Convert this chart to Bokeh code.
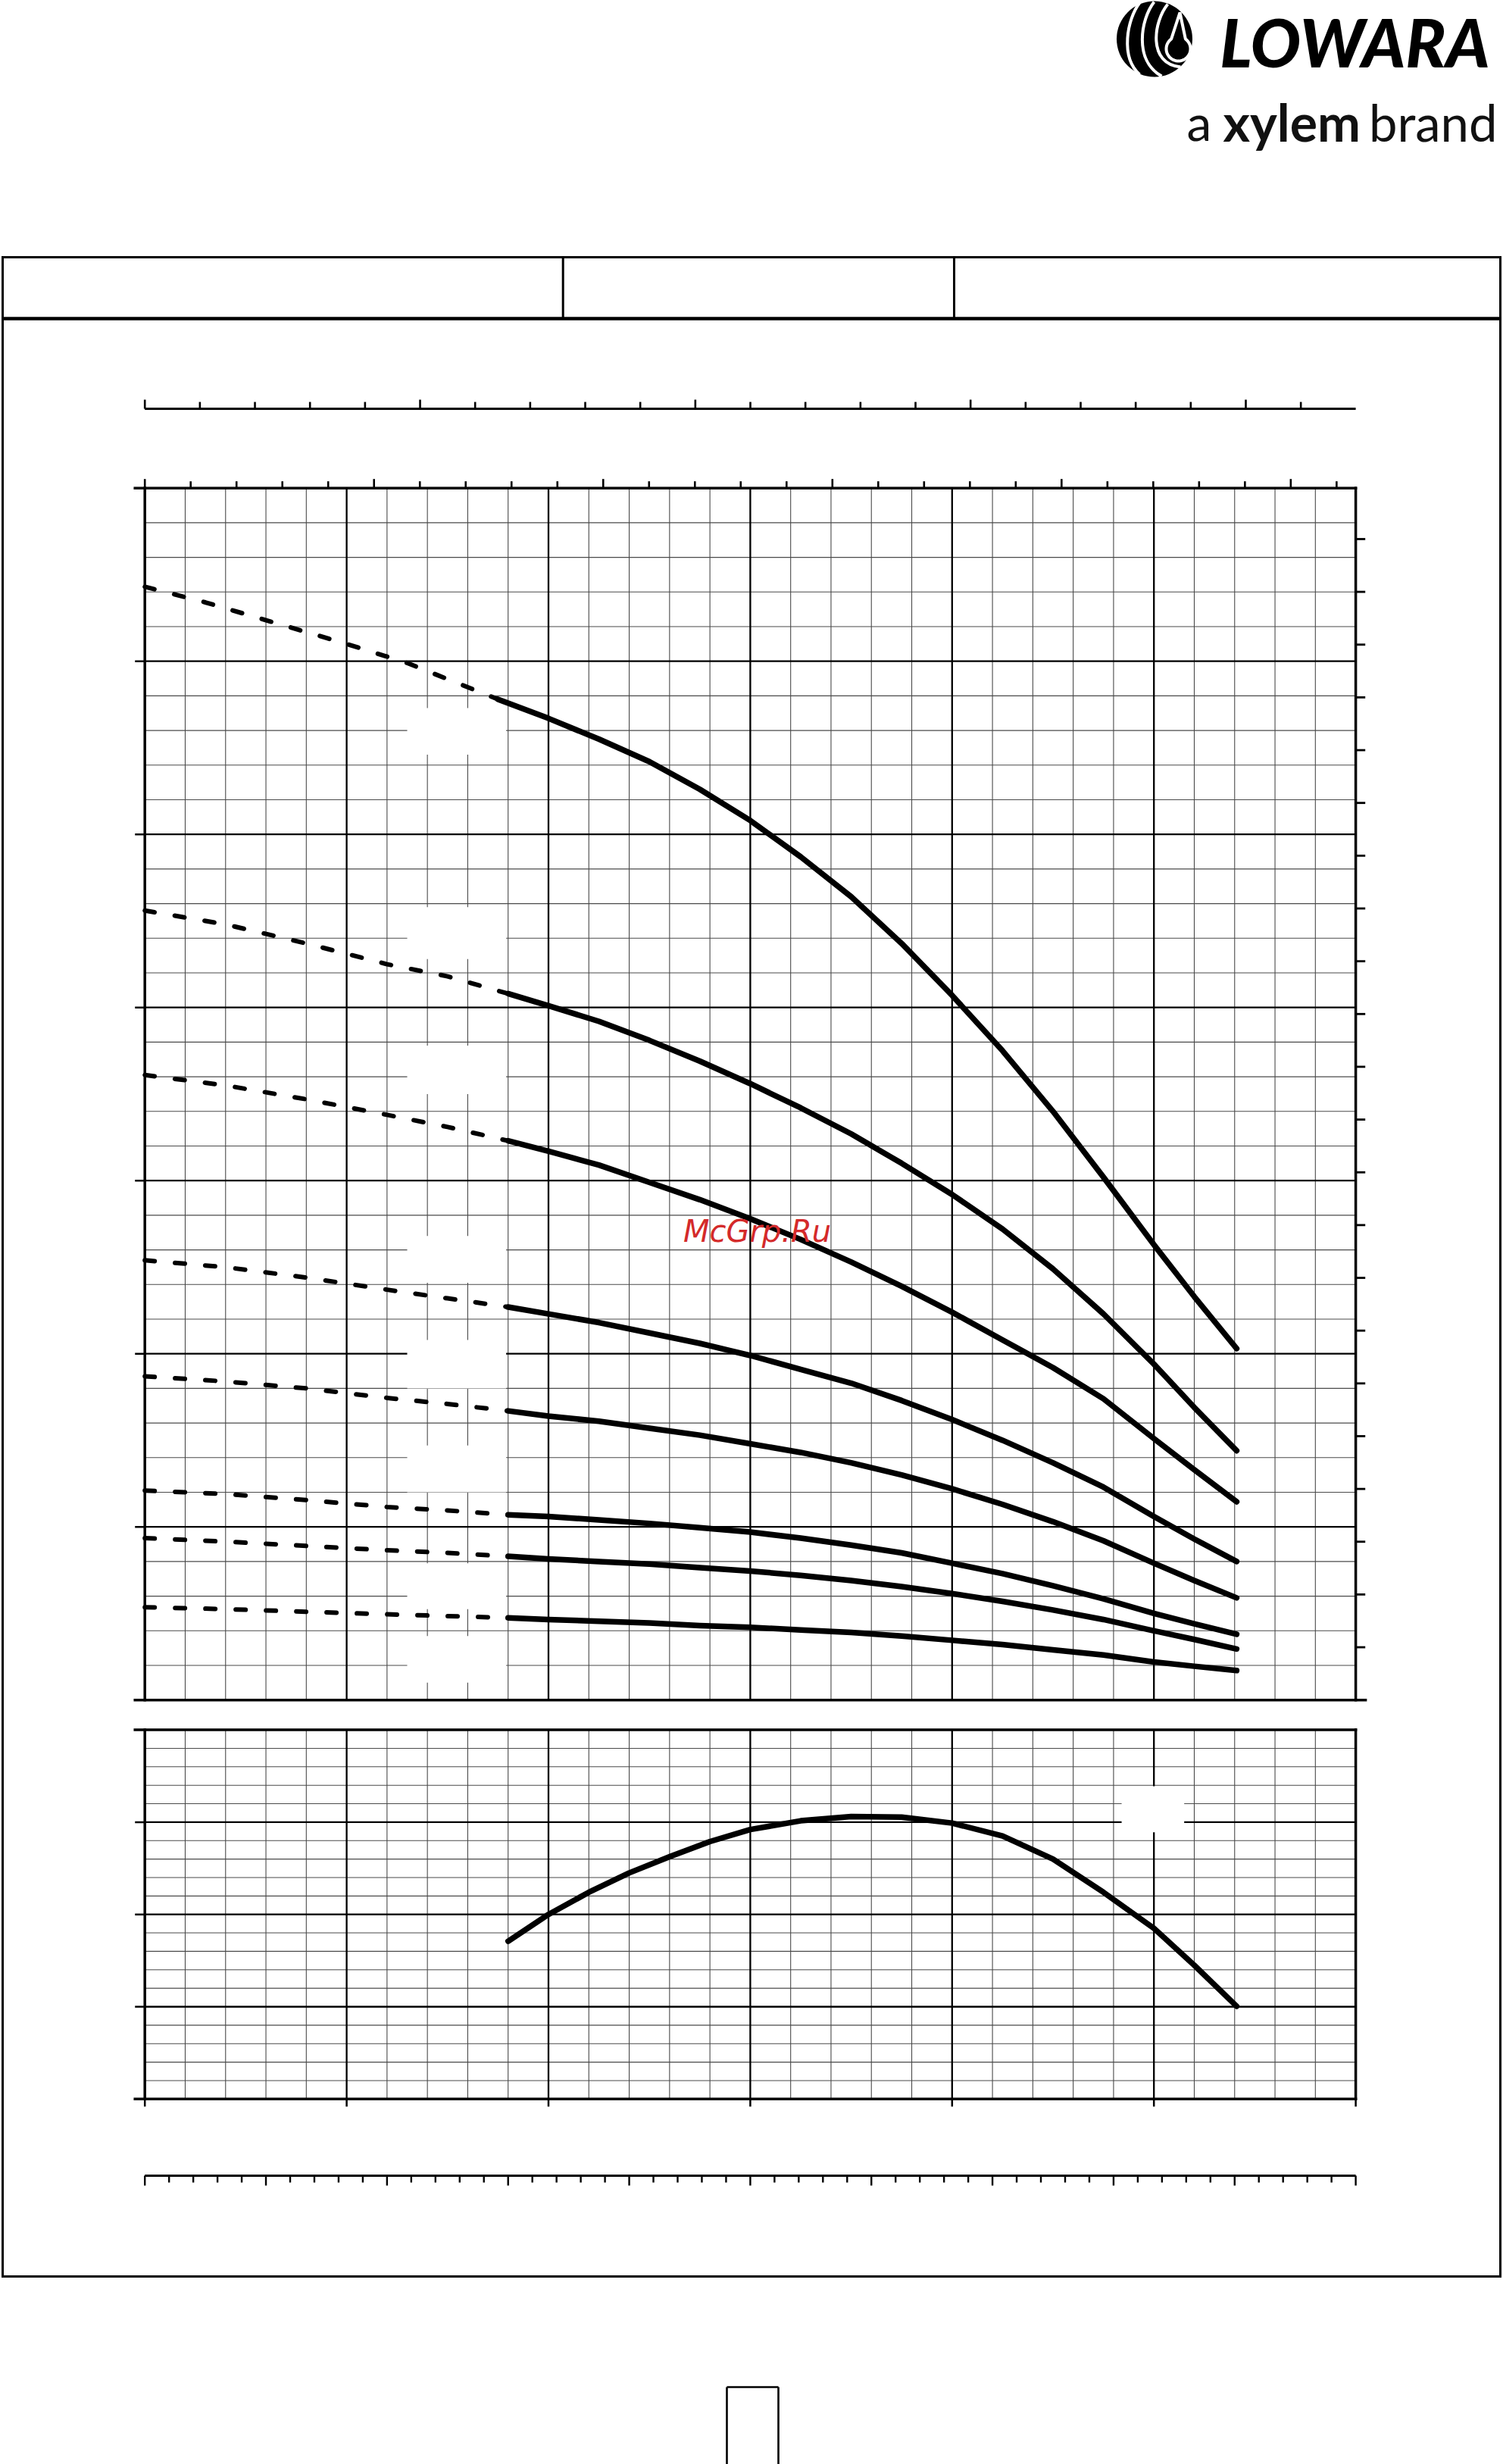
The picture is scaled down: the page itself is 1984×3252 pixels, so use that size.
import numpy as np
from bokeh.plotting import figure
from bokeh.models import Range1d
from bokeh.embed import file_html
from bokeh.resources import INLINE
from bokeh.core.properties import value

# ---------------- data ----------------
# main chart: flow Q [m3/h] vs head H [m]; 8 pump curves, dashed part + solid part
Q_DASH_1 = [0.0, 0.3, 0.65, 1.0, 1.3, 1.75]
H_DASH_1 = [64.3, 63.4, 62.2, 61.0, 59.9, 57.8]
Q_SOLID_1 = [1.75, 2.0, 2.25, 2.5, 2.75, 3.0, 3.25, 3.5, 3.75, 4.0, 4.25, 4.5, 4.75, 5.0, 5.2, 5.41]
H_SOLID_1 = [57.8, 56.7, 55.5, 54.2, 52.6, 50.8, 48.7, 46.4, 43.7, 40.7, 37.5, 34.0, 30.2, 26.3, 23.3, 20.3]

Q_DASH = [0.0, 0.4, 0.8, 1.2, 1.5, 1.8]
Q_SOLID = [1.8, 2.0, 2.25, 2.5, 2.75, 3.0, 3.25, 3.5, 3.75, 4.0, 4.25, 4.5, 4.75, 5.0, 5.2, 5.41]

H_DASH_2 = [45.6, 44.8, 43.7, 42.5, 41.8, 40.8]
H_SOLID_2 = [40.8, 40.1, 39.2, 38.1, 36.9, 35.6, 34.2, 32.7, 31.0, 29.2, 27.2, 24.9, 22.3, 19.4, 16.9, 14.4]
H_DASH_3 = [36.1, 35.5, 34.7, 33.8, 33.1, 32.3]
H_SOLID_3 = [32.3, 31.7, 30.9, 29.9, 28.9, 27.8, 26.6, 25.3, 23.9, 22.4, 20.8, 19.2, 17.4, 15.1, 13.3, 11.45]
H_DASH_4 = [25.4, 25.0, 24.4, 23.7, 23.2, 22.7]
H_SOLID_4 = [22.7, 22.3, 21.8, 21.2, 20.6, 19.9, 19.1, 18.3, 17.3, 16.2, 15.0, 13.7, 12.3, 10.6, 9.3, 8.0]
H_DASH_5 = [18.7, 18.4, 18.0, 17.45, 17.1, 16.7]
H_SOLID_5 = [16.7, 16.4, 16.1, 15.7, 15.3, 14.8, 14.3, 13.7, 13.0, 12.2, 11.3, 10.3, 9.2, 7.9, 6.9, 5.9]
H_DASH_6 = [12.1, 11.9, 11.55, 11.15, 10.95, 10.7]
H_SOLID_6 = [10.7, 10.6, 10.4, 10.2, 9.95, 9.7, 9.35, 8.95, 8.5, 7.9, 7.3, 6.6, 5.85, 5.0, 4.4, 3.8]
H_DASH_7 = [9.35, 9.15, 8.9, 8.65, 8.5, 8.3]
H_SOLID_7 = [8.3, 8.15, 8.0, 7.85, 7.65, 7.45, 7.2, 6.9, 6.55, 6.15, 5.7, 5.2, 4.65, 4.0, 3.5, 2.95]
H_DASH_8 = [5.36, 5.25, 5.1, 4.95, 4.85, 4.75]
H_SOLID_8 = [4.75, 4.65, 4.55, 4.45, 4.3, 4.2, 4.05, 3.9, 3.7, 3.45, 3.2, 2.9, 2.6, 2.2, 1.95, 1.7]

# lower chart: efficiency [%] vs Q [m3/h]
Q_ETA = [1.8, 2.0, 2.2, 2.4, 2.6, 2.8, 3.0, 3.25, 3.5, 3.75, 4.0, 4.25, 4.5, 4.75, 5.0, 5.2, 5.41]
ETA = [34.2, 40.0, 44.8, 49.0, 52.5, 55.8, 58.4, 60.3, 61.2, 61.1, 59.8, 57.0, 52.0, 44.8, 37.0, 29.0, 20.1]

# axes (no printed labels in the picture, only tick marks)
Q_MAX, H_MAX, ETA_MAX = 6.0, 70, 80
US_GPM_TICKS = list(range(0, 27))      # US gpm, major every 5
IMP_GPM_TICKS = list(range(0, 22))     # Imp gpm, major every 5
LPM_TICKS = list(range(0, 101, 2))     # l/min, major every 10
FT_TICKS = list(range(10, 230, 10))    # ft on the right side
M3H_PER_USGPM = 0.2271247
M3H_PER_IMPGPM = 0.2727654
M3H_PER_LPM = 0.06
M_PER_FT = 0.3048

# ---------------- page layout (pixels) ----------------
PX0, PX1, PY0, PY1 = 0, 1984, 0, 3252
MX0, MSX = 190.7, 266.4      # page x of Q=0, px per m3/h
MY0, MSY = 2243.2, 22.85     # page y of H=0, px per m
EY0, ESY = 2769.8, 6.09      # page y of eta=0, px per %
IMP_Y = 539                  # Imp gpm axis line
LPM_Y = 2871                 # l/min axis line

p = figure(width=PX1 - PX0, height=PY1 - PY0, x_range=Range1d(PX0, PX1), y_range=Range1d(PY1, PY0),
           output_backend="svg", toolbar_location=None, min_border=0,
           x_axis_type=None, y_axis_type=None)
p.outline_line_color = None
p.background_fill_color = "white"
p.border_fill_color = "white"
p.extra_x_ranges = {"q": Range1d((PX0 - MX0) / MSX, (PX1 - MX0) / MSX)}
p.extra_y_ranges = {"h": Range1d((MY0 - PY1) / MSY, (MY0 - PY0) / MSY),
                    "eta": Range1d((EY0 - PY1) / ESY, (EY0 - PY0) / ESY)}

MINOR_C, MINOR_W = "#4a4a4a", 1.1
MAJOR_C, MAJOR_W = "black", 2.3
BORDER_W = 3.5


def seg(x0, y0, x1, y1, xr="default", yr="default", color="black", width=1.0, cap="butt"):
    p.segment(x0=list(x0), y0=list(y0), x1=list(x1), y1=list(y1), x_range_name=xr, y_range_name=yr,
              line_color=color, line_width=width, line_cap=cap)


def rep(v, n):
    return [v] * n


# ---------------- grids ----------------
q_minor = [k * 0.2 for k in range(1, 30) if k % 5]
q_major = [float(k) for k in range(1, 6)]
h_minor = [k * 2 for k in range(1, 35) if k % 5]
h_major = [k * 10 for k in range(1, 7)]
e_minor = [k * 4 for k in range(1, 20) if k % 5]
e_major = [20, 40, 60]

seg(q_minor, rep(0, len(q_minor)), q_minor, rep(H_MAX, len(q_minor)), "q", "h", MINOR_C, MINOR_W)
seg(rep(0, len(h_minor)), h_minor, rep(Q_MAX, len(h_minor)), h_minor, "q", "h", MINOR_C, MINOR_W)
seg(q_major, rep(0, 5), q_major, rep(H_MAX, 5), "q", "h", MAJOR_C, MAJOR_W)
seg(rep(0, len(h_major)), h_major, rep(Q_MAX, len(h_major)), h_major, "q", "h", MAJOR_C, MAJOR_W)
seg(q_minor, rep(0, len(q_minor)), q_minor, rep(ETA_MAX, len(q_minor)), "q", "eta", MINOR_C, MINOR_W)
seg(rep(0, len(e_minor)), e_minor, rep(Q_MAX, len(e_minor)), e_minor, "q", "eta", MINOR_C, MINOR_W)
seg(q_major, rep(0, 5), q_major, rep(ETA_MAX, 5), "q", "eta", MAJOR_C, MAJOR_W)
seg(rep(0, 3), e_major, rep(Q_MAX, 3), e_major, "q", "eta", MAJOR_C, MAJOR_W)

# white label backgrounds (their texts are blank in the picture)
LBL_Q = (1.30, 1.79)
LBL_H = [(54.6, 57.3), (42.8, 45.8), (35.0, 37.8), (24.1, 26.8), (18.0, 20.8), (12.0, 14.7), (5.25, 7.9), (1.0, 3.7)]
p.quad(left=rep(LBL_Q[0], 8), right=rep(LBL_Q[1], 8), bottom=[b for b, t in LBL_H], top=[t for b, t in LBL_H],
       x_range_name="q", y_range_name="h", fill_color="white", line_color=None)
p.quad(left=[4.84], right=[5.15], bottom=[57.8], top=[67.8], x_range_name="q", y_range_name="eta",
       fill_color="white", line_color=None)

# ---------------- chart borders and ticks ----------------
tq = 13 / MSX
seg([0, Q_MAX], [0, 0], [0, Q_MAX], [H_MAX, H_MAX], "q", "h", "black", BORDER_W, "square")
seg([-tq, -tq], [0, H_MAX], [Q_MAX + tq, Q_MAX], [0, H_MAX], "q", "h", "black", BORDER_W, "square")
seg(rep(-tq, 6), h_major, rep(0, 6), h_major, "q", "h", "black", 2.5)
fth = [f * M_PER_FT for f in FT_TICKS]
seg(rep(Q_MAX, len(fth)), fth, rep(Q_MAX + 12.6 / MSX, len(fth)), fth, "q", "h", "black", 2.8)
uq = [g * M3H_PER_USGPM for g in US_GPM_TICKS]
ul = [H_MAX + (12 if g % 5 == 0 else 9) / MSY for g in US_GPM_TICKS]
seg(uq, rep(H_MAX, len(uq)), uq, ul, "q", "h", "black", 2.6)

seg([0], [IMP_Y], [Q_MAX], [IMP_Y], "q", "default", "black", 3.2)
iq = [g * M3H_PER_IMPGPM for g in IMP_GPM_TICKS]
il = [IMP_Y - (12 if g % 5 == 0 else 9) for g in IMP_GPM_TICKS]
seg(iq, rep(IMP_Y, len(iq)), iq, il, "q", "default", "black", 2.6)

seg([0], [LPM_Y], [Q_MAX], [LPM_Y], "q", "default", "black", 3.2)
lq = [l * M3H_PER_LPM for l in LPM_TICKS]
ll = [LPM_Y + (13 if l % 10 == 0 else 9) for l in LPM_TICKS]
seg(lq, rep(LPM_Y, len(lq)), lq, ll, "q", "default", "black", 2.4)

seg([0, Q_MAX], [0, 0], [0, Q_MAX], [ETA_MAX, ETA_MAX], "q", "eta", "black", BORDER_W, "square")
seg([-tq, -tq], [0, ETA_MAX], [Q_MAX, Q_MAX], [0, ETA_MAX], "q", "eta", "black", BORDER_W, "square")
seg(rep(-tq, 3), e_major, rep(0, 3), e_major, "q", "eta", "black", 2.5)
qb = [float(k) for k in range(0, 7)]
seg(qb, rep(0, 7), qb, rep(-10 / ESY, 7), "q", "eta", "black", 2.5)

# ---------------- curves ----------------
dashed = [(Q_DASH_1, H_DASH_1), (Q_DASH, H_DASH_2), (Q_DASH, H_DASH_3), (Q_DASH, H_DASH_4),
          (Q_DASH, H_DASH_5), (Q_DASH, H_DASH_6), (Q_DASH, H_DASH_7), (Q_DASH, H_DASH_8)]
solid = [(Q_SOLID_1, H_SOLID_1), (Q_SOLID, H_SOLID_2), (Q_SOLID, H_SOLID_3), (Q_SOLID, H_SOLID_4),
         (Q_SOLID, H_SOLID_5), (Q_SOLID, H_SOLID_6), (Q_SOLID, H_SOLID_7), (Q_SOLID, H_SOLID_8)]
for qx, hy in dashed:
    p.line(qx, hy, x_range_name="q", y_range_name="h", line_color="black", line_width=6,
           line_dash="13 27", line_cap="round", line_join="round")
for qx, hy in solid:
    p.line(qx, hy, x_range_name="q", y_range_name="h", line_color="black", line_width=7.5,
           line_cap="round", line_join="round")
p.line(Q_ETA, ETA, x_range_name="q", y_range_name="eta", line_color="black", line_width=7.5,
       line_cap="round", line_join="round")

# ---------------- page frame ----------------
FL, FR, FT, FB, FH = 3, 1980, 339, 3004, 420
seg([FL, FL, FR, FL], [FT, FB, FT, FT], [FR, FR, FR, FL], [FT, FB, FB, FB], color="black", width=3, cap="square")
seg([FL], [FH], [FR], [FH], color="black", width=4.5)
seg([742.7, 1259], [FT, FT], [742.7, 1259], [FH, FH], color="black", width=3)
seg([959, 959, 1027], [3150, 3150, 3150], [959, 1027, 1027], [PY1, 3150, PY1], color="black", width=2.6)

# ---------------- logo ----------------
p.circle(x=[1523.5], y=[51], radius=50, fill_color="black", line_color=None)
p.bezier(x0=[1504, 1523, 1541], y0=[3, 2, 5], x1=[1504, 1533, 1558], y1=[98, 100, 88],
         cx0=[1487, 1505, 1522], cy0=[25, 25, 28], cx1=[1478, 1496, 1514], cy1=[75, 80, 84],
         line_color="white", line_width=4)
t = np.linspace(-0.3 * np.pi, 1.3 * np.pi, 40)
drop_x = [1557] + list(1555 + 16 * np.cos(t)) + [1557]
drop_y = [16] + list(64 + 16 * np.sin(t)) + [16]
p.patch(drop_x, drop_y, fill_color="black", line_color="white", line_width=4)

MID = 0.387  # distance baseline -> middle of the text box, as a fraction of the font size
p.text(x=[1966], y=[89 - MID * 88], text=["LOWARA"], text_font=value("'Lato Black', Lato"),
       text_font_size=value("88px"), text_font_style="bold italic", text_align="right",
       text_baseline="middle", text_color="black")
p.text(x=[1566], y=[186 - MID * 66], text=["a"], text_font=value("Lato"), text_font_size=value("66px"),
       text_align="left", text_baseline="middle", text_color="#111111")
p.text(x=[1614], y=[186 - MID * 68], text=["xylem"], text_font=value("Lato"), text_font_size=value("68px"),
       text_font_style="bold", text_align="left", text_baseline="middle", text_color="#111111")
p.text(x=[1976], y=[186 - MID * 67], text=["brand"], text_font=value("Lato"), text_font_size=value("67px"),
       text_align="right", text_baseline="middle", text_color="#111111")

# watermark
p.text(x=[999], y=[1640 - MID * 40], text=["McGrp.Ru"], text_font=value("DejaVu Sans"),
       text_font_size=value("40px"), text_font_style="italic", text_align="center",
       text_baseline="middle", text_color="#d42a2a")

open("out.html", "w").write(file_html(p, INLINE))
